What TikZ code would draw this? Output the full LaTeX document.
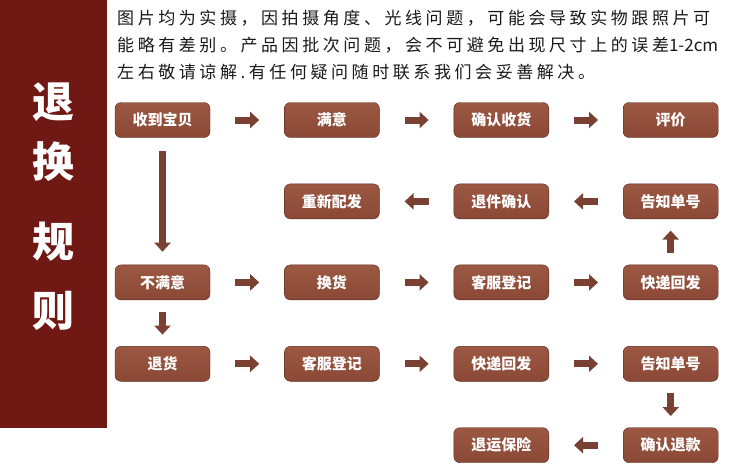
\documentclass[tikz,border=0pt]{standalone}
\usepackage{fontspec}
\usepackage{tikz}
\usetikzlibrary{arrows.meta, positioning}
\setmainfont{Noto Sans CJK SC}
\newfontfamily\cjk{Noto Sans CJK SC}
\newfontfamily\cjkwide[LetterSpace=21]{Noto Sans CJK SC}
\definecolor{barRed}{RGB}{112,24,20}
\definecolor{boxLight}{RGB}{156,88,66}
\definecolor{boxDark}{RGB}{92,42,32}
\definecolor{boxLow}{RGB}{138,72,54}
\definecolor{arrowBrown}{RGB}{122,64,50}
\definecolor{noteText}{RGB}{25,25,25}
\tikzset{
    stepbox/.style={rectangle, rounded corners=6pt, top color=boxLight, middle color=boxDark, bottom color=boxLow,
                    draw=boxDark, text=white, minimum width=95pt, minimum height=35pt, inner sep=0pt,
                    font=\cjk\bfseries\fontsize{15}{15}\selectfont},
    sidechar/.style={text=white, inner sep=0pt, font=\cjk\bfseries\fontsize{42}{42}\selectfont},
    note/.style={anchor=west, inner sep=0pt, text=noteText, font=\cjkwide\fontsize{17}{17}\selectfont},
    go/.style={-{Triangle[length=9pt, width=16pt]}, line width=7pt, arrowBrown, shorten <=#1, shorten >=#1},
    go/.default=25pt
}
\begin{document}
\begin{tikzpicture}[x=1pt, y=-1pt, node distance=46pt and 74pt]
    \useasboundingbox (0,0) rectangle (748,467);
    \fill[barRed] (0,0) rectangle (107,428);

    % side title
    \node[sidechar] (sideA) at (53,102) {退};
    \node[sidechar] (sideB) at (53,162) {换};
    \node[sidechar] (sideC) at (53,242) {规};
    \node[sidechar] (sideD) at (53,311) {则};

    % note at the top
    \node[note] (noteA) at (117,18) {图片均为实摄，因拍摄角度、光线问题，可能会导致实物跟照片可};
    \node[note] (noteB) at (117,45) {能略有差别。产品因批次问题，会不可避免出现尺寸上的误差{\cjk 1-2cm}};
    \node[note] (noteC) at (117,72) {左右敬请谅解.有任何疑问随时联系我们会妥善解决。};

    % row 1
    \node[stepbox] (recv) at (162.5,120) {收到宝贝};
    \node[stepbox, right=of recv] (happy) {满意};
    \node[stepbox, right=of happy] (confirm) {确认收货};
    \node[stepbox, right=of confirm] (review) {评价};
    % row 2
    \node[stepbox, below=of happy] (resend) {重新配发};
    \node[stepbox, below=of confirm] (backok) {退件确认};
    \node[stepbox, below=of review] (telltop) {告知单号};
    % row 3
    \node[stepbox, below=127pt of recv] (unhappy) {不满意};
    \node[stepbox, right=of unhappy] (swap) {换货};
    \node[stepbox, right=of swap] (deskA) {客服登记};
    \node[stepbox, right=of deskA] (shipA) {快递回发};
    % row 4
    \node[stepbox, below=of unhappy] (refund) {退货};
    \node[stepbox, right=of refund] (deskB) {客服登记};
    \node[stepbox, right=of deskB] (shipB) {快递回发};
    \node[stepbox, right=of shipB] (tellbot) {告知单号};
    % row 5
    \node[stepbox, below=of tellbot] (payback) {确认退款};
    \node[stepbox, below=of shipB] (insure) {退运保险};

    \draw[go] (recv) -- (happy);
    \draw[go] (happy) -- (confirm);
    \draw[go] (confirm) -- (review);
    \draw[go] (telltop) -- (backok);
    \draw[go] (backok) -- (resend);
    \draw[go=13pt] (recv) -- (unhappy);
    \draw[go] (unhappy) -- (swap);
    \draw[go] (swap) -- (deskA);
    \draw[go] (deskA) -- (shipA);
    \draw[go=11.5pt] (shipA) -- (telltop);
    \draw[go=11.5pt] (unhappy) -- (refund);
    \draw[go] (refund) -- (deskB);
    \draw[go] (deskB) -- (shipB);
    \draw[go] (shipB) -- (tellbot);
    \draw[go=11.5pt] (tellbot) -- (payback);
    \draw[go] (payback) -- (insure);
\end{tikzpicture}
\end{document}
